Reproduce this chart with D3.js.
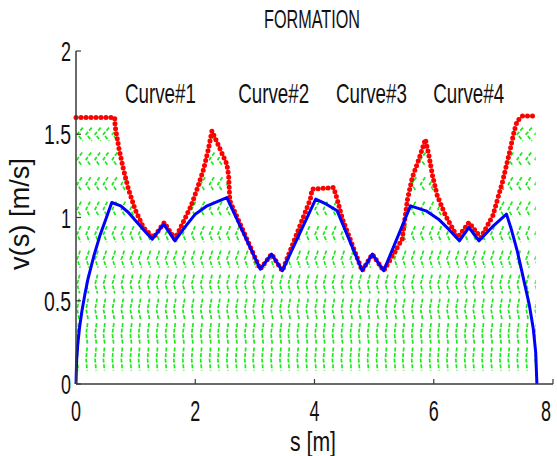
<!DOCTYPE html>
<html>
<head>
<meta charset="utf-8">
<script src="https://cdn.jsdelivr.net/npm/d3@7"></script>
<style>
  body { margin: 0; background: #fff; }
  text { font-family: "Liberation Sans", Arial, sans-serif; fill: #111; }
</style>
</head>
<body>
<div id="chart"></div>
<script>
// velocity limit curve (red dots)
const limitS = [0, 0.65, 0.655, 0.72, 0.795, 0.88, 0.99, 1.13, 1.30, 1.48, 1.66, 1.93, 2.03, 2.14, 2.22, 2.28,
  2.53, 2.56, 2.58, 3.09, 3.28, 3.46, 3.93, 3.96, 4.32, 4.38, 4.47, 4.80, 4.97, 5.16, 5.47, 5.56, 5.64,
  5.75, 5.86, 5.92, 5.98, 6.06, 6.20, 6.40, 6.59, 6.79, 6.99, 7.15, 7.27, 7.35, 7.40, 7.49, 7.71]
const limitV = [1.6, 1.6, 1.55, 1.415, 1.29, 1.17, 1.05, 0.94, 0.88, 0.97, 0.87, 1.07, 1.17, 1.29, 1.41, 1.52,
  1.32, 1.25, 1.10, 0.69, 0.78, 0.68, 1.11, 1.17, 1.18, 1.11, 0.99, 0.68, 0.78, 0.68, 0.87, 1.11, 1.24,
  1.35, 1.47, 1.37, 1.25, 1.13, 1.01, 0.88, 0.97, 0.88, 1.01, 1.21, 1.39, 1.52, 1.58, 1.61, 1.61]

// velocity profile (blue)
const profileS = [0, 0.01, 0.03, 0.06, 0.1, 0.15, 0.2, 0.3, 0.4, 0.5, 0.6, 0.75, 0.88, 1.0, 1.1, 1.2, 1.28,
  1.47, 1.66, 1.8, 2.0, 2.2, 2.4, 2.53, 3.09, 3.28, 3.46, 4.02, 4.2, 4.38, 4.80, 4.97, 5.16, 5.61, 5.87,
  6.08, 6.25, 6.43, 6.59, 6.76, 7.0, 7.22, 7.3, 7.4, 7.5, 7.6, 7.67, 7.71, 7.73]
const profileV = [0, 0.14, 0.24, 0.34, 0.44, 0.54, 0.63, 0.77, 0.89, 0.99, 1.09, 1.07, 1.03, 0.98, 0.94, 0.90, 0.87,
  0.96, 0.86, 0.93, 1.02, 1.07, 1.10, 1.12, 0.69, 0.78, 0.68, 1.11, 1.08, 1.04, 0.68, 0.78, 0.68, 1.07, 1.04,
  0.99, 0.93, 0.86, 0.94, 0.86, 0.95, 1.02, 0.93, 0.80, 0.64, 0.48, 0.33, 0.19, 0]

// phase-plane field (green): grid columns, rows and arm components per row
const fieldS = [0.02, 0.17, 0.32, 0.46, 0.61, 0.76, 0.91, 1.05, 1.20, 1.35, 1.50, 1.64, 1.79, 1.94, 2.09, 2.24,
  2.38, 2.53, 2.68, 2.83, 2.97, 3.12, 3.27, 3.42, 3.56, 3.71, 3.86, 4.01, 4.15, 4.30, 4.45, 4.60, 4.74, 4.89,
  5.04, 5.19, 5.34, 5.48, 5.63, 5.78, 5.93, 6.07, 6.22, 6.37, 6.52, 6.66, 6.81, 6.96, 7.11, 7.25, 7.40, 7.55, 7.70]
const fieldV = [0.15, 0.3, 0.45, 0.6, 0.75, 0.9, 1.05, 1.2, 1.35, 1.5]
const fieldDu = [0.017, 0.025, 0.034, 0.042, 0.05, 0.059, 0.067, 0.076, 0.084, 0.095]
const fieldDv = [0.069, 0.066, 0.063, 0.057, 0.051, 0.048, 0.045, 0.042, 0.041, 0.040]

const curveNames = ['Curve#1', 'Curve#2', 'Curve#3', 'Curve#4']
const xTicks = [0, 2, 4, 6, 8]
const yTicks = [0, 0.5, 1, 1.5, 2]

const width = 557
const height = 456
const plotLeft = 76, plotRight = 553, plotTop = 51, plotBottom = 384

const svg = d3.select('#chart').append('svg')
  .attr('width', width)
  .attr('height', height)

const x = d3.scaleLinear().domain([0, 8]).range([plotLeft, plotRight])
const y = d3.scaleLinear().domain([0, 2]).range([plotBottom, plotTop])

// narrow font look: squeeze each text to a given width
const fit = (sel, w) => sel.attr('textLength', w).attr('lengthAdjust', 'spacingAndGlyphs')

// clip the field to the area under the limit curve
const limit = limitS.map((s, i) => [s, limitV[i]])
svg.append('clipPath').attr('id', 'under')
  .append('path')
  .attr('d', d3.area().x(d => x(d[0])).y0(y(0)).y1(d => y(d[1]))(limit))

const field = svg.append('g').attr('clip-path', 'url(#under)')
fieldV.forEach((v, j) => {
  field.selectAll(null)
    .data(fieldS)
    .enter()
    .append('path')
      .attr('d', s => `M${x(s + fieldDu[j])},${y(v + fieldDv[j])}L${x(s)},${y(v)}L${x(s + fieldDu[j])},${y(v - fieldDv[j])}`)
      .attr('fill', 'none')
      .attr('stroke', '#1ee81e')
      .attr('stroke-width', 1.7)
      .attr('stroke-dasharray', '4,1.6')
})

const line = d3.line().x(d => x(d[0])).y(d => y(d[1]))

svg.append('path')
  .attr('d', line(limit))
  .attr('fill', 'none')
  .attr('stroke', '#ff0000')
  .attr('stroke-width', 5)
  .attr('stroke-linecap', 'round')
  .attr('stroke-dasharray', '0,5')

svg.append('path')
  .attr('d', line(profileS.map((s, i) => [s, profileV[i]])))
  .attr('fill', 'none')
  .attr('stroke', '#0000ff')
  .attr('stroke-width', 3)
  .attr('stroke-linejoin', 'round')

// axes
const axisColor = '#3a3a3a'
svg.append('line').attr('x1', plotLeft).attr('x2', plotLeft).attr('y1', plotTop).attr('y2', plotBottom)
  .attr('stroke', axisColor).attr('stroke-width', 1.5)
svg.append('line').attr('x1', plotLeft).attr('x2', plotRight).attr('y1', plotBottom).attr('y2', plotBottom)
  .attr('stroke', axisColor).attr('stroke-width', 1.5)

svg.selectAll('.xt').data(xTicks).enter().append('line')
  .attr('x1', d => x(d)).attr('x2', d => x(d)).attr('y1', plotBottom).attr('y2', plotBottom - 5)
  .attr('stroke', axisColor).attr('stroke-width', 1.2)
svg.selectAll('.yt').data(yTicks).enter().append('line')
  .attr('x1', plotLeft).attr('x2', plotLeft + 5).attr('y1', d => y(d)).attr('y2', d => y(d))
  .attr('stroke', axisColor).attr('stroke-width', 1.2)

svg.selectAll('.xl').data(xTicks).enter().append('text')
  .attr('x', d => Math.min(x(d), 546)).attr('y', 421)
  .attr('text-anchor', 'middle')
  .attr('font-size', 29)
  .text(d => d)
  .call(fit, 10)

svg.selectAll('.yl').data(yTicks).enter().append('text')
  .attr('x', 71).attr('y', d => y(d) + 10)
  .attr('text-anchor', 'end')
  .attr('font-size', 28)
  .text(d => d)
  .call(sel => sel.attr('textLength', d => String(d).length > 1 ? 27 : 10))
  .attr('lengthAdjust', 'spacingAndGlyphs')

svg.append('text')
  .attr('x', 313).attr('y', 451)
  .attr('text-anchor', 'middle')
  .attr('font-size', 28)
  .text('s [m]')
  .call(fit, 46)

svg.append('text')
  .attr('transform', 'translate(29,214) rotate(-90)')
  .attr('text-anchor', 'middle')
  .attr('font-size', 28)
  .text('v(s) [m/s]')
  .call(fit, 112)

svg.append('text')
  .attr('x', 312).attr('y', 28)
  .attr('text-anchor', 'middle')
  .attr('font-size', 26)
  .text('FORMATION')
  .call(fit, 96)

const labelS = [0.82, 2.72, 4.36, 5.99]
svg.selectAll('.cl').data(curveNames).enter().append('text')
  .attr('x', (d, i) => x(labelS[i])).attr('y', y(1.685))
  .attr('font-size', 28)
  .text(d => d)
  .call(fit, 71)
</script>
</body>
</html>
